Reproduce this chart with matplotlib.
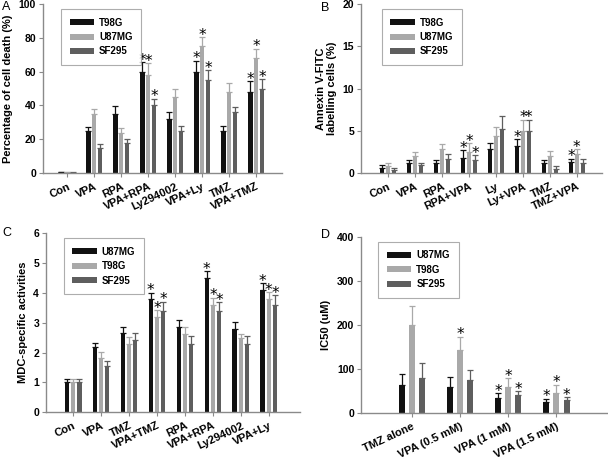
import matplotlib
matplotlib.use('Agg')
import matplotlib.pyplot as plt
import numpy as np

plt.rcParams['font.family'] = ['Liberation Sans', 'DejaVu Sans']
plt.rcParams['font.weight'] = 'bold'

colors = ['#111111', '#a9a9a9', '#5e5e5e']
spine_c = '#8a8a8a'

# ---- panel A: cell death
a_groups = ['Con', 'VPA', 'RPA', 'VPA+RPA', 'Ly294002', 'VPA+Ly', 'TMZ', 'VPA+TMZ']
a_series = ['T98G', 'U87MG', 'SF295']
a_vals = [[0.5, 25, 35, 60, 32, 60, 25, 48],
          [0.5, 35, 24, 58, 45, 75, 48, 68],
          [0.3, 15, 18, 40, 25, 55, 36, 50]]
a_err = [[0.2, 2.5, 4.5, 5.5, 4, 6.5, 3, 6.5],
         [0.2, 3, 2.5, 7, 5, 5.5, 5.5, 5.5],
         [0.1, 2, 2, 4, 3, 6, 3, 5.5]]
a_star = [[0, 0, 0, 1, 0, 1, 0, 1],
          [0, 0, 0, 1, 0, 1, 0, 1],
          [0, 0, 0, 1, 0, 1, 0, 1]]

# ---- panel B: annexin
b_groups = ['Con', 'VPA', 'RPA', 'RPA+VPA', 'Ly', 'Ly+VPA', 'TMZ', 'TMZ+VPA']
b_series = ['T98G', 'U87MG', 'SF295']
b_vals = [[0.6, 1.2, 1.2, 1.8, 2.8, 3.2, 1.2, 1.3],
          [0.8, 2.0, 2.8, 2.5, 4.4, 5.0, 2.0, 2.3],
          [0.4, 1.0, 1.7, 1.5, 5.2, 5.0, 0.5, 1.2]]
b_err = [[0.3, 0.4, 0.4, 0.9, 0.7, 0.8, 0.3, 0.4],
         [0.4, 0.5, 0.6, 1.0, 1.1, 1.3, 0.6, 0.5],
         [0.2, 0.2, 0.6, 0.6, 1.5, 1.3, 0.3, 0.5]]
b_star = [[0, 0, 0, 1, 0, 1, 0, 1],
          [0, 0, 0, 1, 0, 1, 0, 1],
          [0, 0, 0, 1, 0, 1, 0, 0]]

# ---- panel C: MDC
c_groups = ['Con', 'VPA', 'TMZ', 'VPA+TMZ', 'RPA', 'VPA+RPA', 'Ly294002', 'VPA+Ly']
c_series = ['U87MG', 'T98G', 'SF295']
c_vals = [[1.0, 2.18, 2.65, 3.8, 2.85, 4.5, 2.78, 4.1],
          [1.0, 1.82, 2.28, 3.2, 2.62, 3.6, 2.47, 3.8],
          [1.0, 1.55, 2.42, 3.4, 2.3, 3.4, 2.3, 3.6]]
c_err = [[0.1, 0.15, 0.21, 0.2, 0.24, 0.22, 0.25, 0.22],
         [0.1, 0.2, 0.25, 0.22, 0.24, 0.23, 0.15, 0.22],
         [0.1, 0.15, 0.24, 0.3, 0.25, 0.29, 0.26, 0.32]]
c_star = [[0, 0, 0, 1, 0, 1, 0, 1],
          [0, 0, 0, 1, 0, 1, 0, 1],
          [0, 0, 0, 1, 0, 1, 0, 1]]

# ---- panel D: IC50
d_groups = ['TMZ alone', 'VPA (0.5 mM)', 'VPA (1 mM)', 'VPA (1.5 mM)']
d_series = ['U87MG', 'T98G', 'SF295']
d_vals = [[63, 60, 35, 25],
          [200, 143, 59, 46],
          [80, 75, 40, 30]]
d_err = [[25, 21, 10, 8],
         [43, 30, 20, 18],
         [33, 22, 10, 6]]
d_star = [[0, 0, 1, 1],
          [0, 1, 1, 1],
          [0, 0, 1, 1]]


def panel(ax, groups, series, vals, err, stars, width, offs, ymax, ystep,
          ylabel, xlim, leg_box):
    x = np.arange(len(groups))
    for i in range(3):
        xs = x + (i - 1) * offs
        ax.bar(xs, vals[i], width, color=colors[i], label=series[i], zorder=2)
        ax.errorbar(xs, vals[i], yerr=[np.zeros(len(groups)), err[i]], fmt='none',
                    ecolor=colors[i], elinewidth=0.9, capsize=2.5, capthick=0.9, zorder=1)
        for j in range(len(groups)):
            if stars[i][j]:
                ax.annotate('*', (xs[j], vals[i][j] + err[i][j]), xytext=(0, -4),
                            textcoords='offset points', ha='center', va='bottom',
                            fontsize=11, fontweight='normal', family='DejaVu Sans',
                            color='black', zorder=5)
    ax.set_xlim(*xlim)
    ax.set_ylim(0, ymax)
    ax.set_yticks(np.arange(0, ymax + ystep / 2, ystep))
    ax.set_xticks(x)
    ax.set_xticklabels(groups, rotation=25, ha='right', rotation_mode='anchor')
    ax.tick_params(axis='y', labelsize=7.5, length=3, width=0.8, color=spine_c, pad=2)
    ax.tick_params(axis='x', labelsize=8, length=3, width=0.8, color=spine_c, pad=3)
    for s in ['top', 'right']:
        ax.spines[s].set_visible(False)
    for s in ['left', 'bottom']:
        ax.spines[s].set_color(spine_c)
        ax.spines[s].set_linewidth(1.0)
    ax.set_ylabel(ylabel, fontsize=8, fontweight='bold', labelpad=4)
    leg = ax.legend(loc='upper left', bbox_to_anchor=leg_box, fontsize=7, frameon=True,
                    fancybox=False, edgecolor='#999999', handlelength=2.5, handleheight=0.55,
                    borderpad=0.9, labelspacing=0.45, handletextpad=0.5)
    leg.get_frame().set_linewidth(0.8)


fig = plt.figure(figsize=(6.08, 4.59), dpi=100)
axA = fig.add_axes([0.0707, 0.623, 0.393, 0.368])
axB = fig.add_axes([0.594, 0.623, 0.396, 0.368])
axC = fig.add_axes([0.0757, 0.102, 0.417, 0.390])
axD = fig.add_axes([0.594, 0.100, 0.406, 0.384])

panel(axA, a_groups, a_series, a_vals, a_err, a_star, 0.16, 0.22, 100, 20,
      'Percentage of cell death (%)', (-0.9, 7.95), (0.055, 1.0))
panel(axB, b_groups, b_series, b_vals, b_err, b_star, 0.16, 0.22, 20, 5,
      'Annexin V-FITC\nlabelling cells (%)', (-1.0, 7.93), (0.065, 1.0))
panel(axC, c_groups, c_series, c_vals, c_err, c_star, 0.16, 0.22, 6, 1,
      'MDC-specific activities', (-0.97, 8.1), (0.05, 1.0))
panel(axD, d_groups, d_series, d_vals, d_err, d_star, 0.125, 0.21, 400, 100,
      'IC50 (uM)', (-1.05, 4.07), (0.05, 1.0))

for lab, (px, py) in zip('ABCD', [(2, 7), (321, 8), (2, 233), (321, 235)]):
    fig.text(px / 608, 1 - py / 459, lab, fontsize=9, fontweight='normal', va='center')

fig.savefig('out.png', dpi=100)
